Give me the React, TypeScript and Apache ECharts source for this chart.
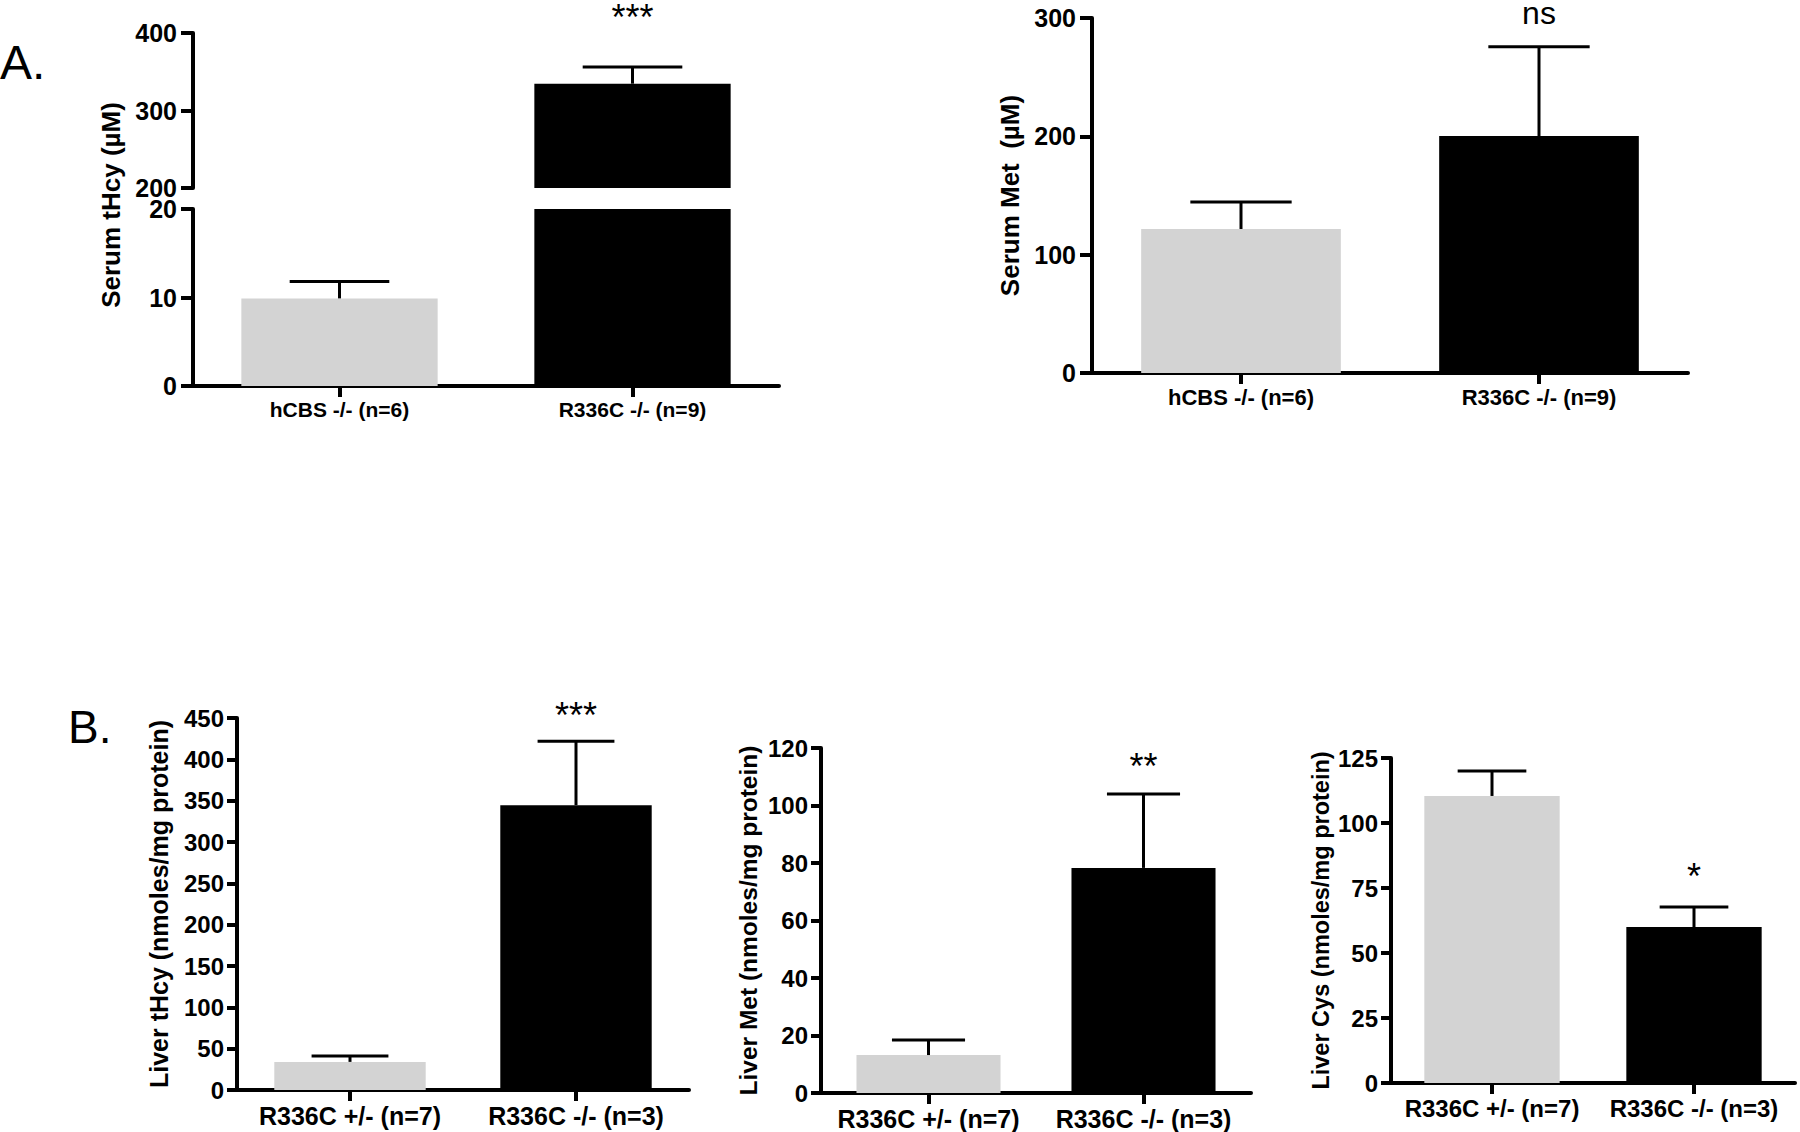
import React, { useEffect, useRef } from 'react';
import * as echarts from 'echarts';

// ---------- data ----------
const groupsA = ['hCBS -/- (n=6)', 'R336C -/- (n=9)'];
const groupsB = ['R336C +/- (n=7)', 'R336C -/- (n=3)'];
const barColors = ['#d3d3d3', '#000000'];

// Panel A, left: serum total homocysteine (broken axis)
const serumTHcyMean = [9.9, 334.6];
const serumTHcyErr = [1.9, 21.5];
const serumTHcySig = ['', '***'];
const serumTHcyLowerAxis = [0, 20, 10]; // min, max, interval
const serumTHcyUpperAxis = [200, 400, 100];

// Panel A, right: serum methionine
const serumMetMean = [121.7, 200.3];
const serumMetErr = [22.8, 75.3];
const serumMetSig = ['', 'ns'];
const serumMetAxis = [0, 300, 100];

// Panel B: liver metabolites
const liverTHcyMean = [34, 344.6];
const liverTHcyErr = [7.1, 77.4];
const liverTHcySig = ['', '***'];
const liverTHcyAxis = [0, 450, 50];

const liverMetMean = [13.2, 78.3];
const liverMetErr = [5.2, 25.7];
const liverMetSig = ['', '**'];
const liverMetAxis = [0, 120, 20];

const liverCysMean = [110.4, 60.0];
const liverCysErr = [9.6, 7.7];
const liverCysSig = ['', '*'];
const liverCysAxis = [0, 125, 25];

// ---------- helpers ----------
const FONT = "'Liberation Sans', Arial, Helvetica, sans-serif";

function valueAxis(grid: number, range: number[], fontSize: number, margin: number, tickLen: number, extra: any = {}) {
  return {
    type: 'value',
    gridIndex: grid,
    min: range[0],
    max: range[1],
    interval: range[2],
    axisLine: { show: true, lineStyle: { color: '#000', width: 4 } },
    axisTick: { show: true, length: tickLen, lineStyle: { color: '#000', width: 4 } },
    axisLabel: {
      margin,
      fontSize,
      fontWeight: 'bold',
      color: '#000',
      fontFamily: FONT,
      showMinLabel: true,
      showMaxLabel: true,
    },
    splitLine: { show: false },
    ...extra,
  };
}

function categoryAxis(grid: number, cats: string[], fontSize: number, show = true) {
  return {
    type: 'category',
    gridIndex: grid,
    data: cats,
    show,
    axisLine: { show: true, lineStyle: { color: '#000', width: 4 } },
    axisTick: { show: true, alignWithLabel: true, length: 11, lineStyle: { color: '#000', width: 4 } },
    axisLabel: {
      margin: 13,
      fontSize,
      fontWeight: 'bold',
      color: '#000',
      fontFamily: FONT,
      interval: 0,
    },
    splitLine: { show: false },
  };
}

function barSeries(grid: number, means: number[]) {
  return {
    type: 'bar',
    xAxisIndex: grid,
    yAxisIndex: grid,
    barWidth: '67%',
    clip: true,
    silent: true,
    data: means.map((v, i) => ({ value: v, itemStyle: { color: barColors[i] } })),
  };
}

function errSeries(
  grid: number,
  means: number[],
  errs: number[],
  sigs: string[],
  keep: (i: number) => boolean,
  sigGap: number,
  sigSize: number,
) {
  const data = means.map((m, i) => [i, m, errs[i]]).filter((_, i) => keep(i));
  return {
    type: 'custom',
    xAxisIndex: grid,
    yAxisIndex: grid,
    z: 5,
    silent: true,
    data,
    renderItem: (_params: any, api: any) => {
      const ci = api.value(0);
      const m = api.value(1);
      const e = api.value(2);
      const b = api.coord([ci, m]);
      const t = api.coord([ci, m + e]);
      const half = (api.size([1, 0])[0] * 0.34) / 2;
      const st = { stroke: '#000', lineWidth: 3 };
      const children: any[] = [
        { type: 'line', shape: { x1: b[0], y1: b[1], x2: t[0], y2: t[1] }, style: st },
        { type: 'line', shape: { x1: t[0] - half, y1: t[1], x2: t[0] + half, y2: t[1] }, style: st },
      ];
      const s = sigs[ci];
      if (s) {
        children.push({
          type: 'text',
          x: t[0],
          y: t[1] - sigGap,
          style: {
            text: s,
            fontSize: sigSize,
            fontFamily: FONT,
            fontWeight: 'normal',
            fill: '#000',
            align: 'center',
            verticalAlign: 'middle',
          },
        });
      }
      return { type: 'group', children };
    },
  };
}

function axisName(text: string, gap: number, size: number) {
  return {
    name: text,
    nameLocation: 'middle',
    nameGap: gap,
    nameTextStyle: { fontSize: size, fontWeight: 'bold', color: '#000', fontFamily: FONT },
  };
}

export default function App() {
  const ref = useRef<HTMLDivElement>(null);

  useEffect(() => {
    if (!ref.current) return;
    const chart = echarts.init(ref.current, null, { renderer: 'svg' });

    const grids = [
      { left: 193, top: 33, width: 586, height: 155 }, // 0: A tHcy upper
      { left: 193, top: 209, width: 586, height: 177 }, // 1: A tHcy lower
      { left: 1092, top: 18, width: 596, height: 355 }, // 2: A Met
      { left: 237, top: 718, width: 452, height: 372 }, // 3: B tHcy
      { left: 821, top: 748, width: 430, height: 345 }, // 4: B Met
      { left: 1391, top: 758, width: 404, height: 325 }, // 5: B Cys
    ];

    const option: any = {
      animation: false,
      backgroundColor: '#ffffff',
      grid: grids.map((g) => ({ ...g, containLabel: false })),
      xAxis: [
        categoryAxis(0, groupsA, 21, false),
        categoryAxis(1, groupsA, 21),
        categoryAxis(2, groupsA, 22),
        categoryAxis(3, groupsB, 25),
        categoryAxis(4, groupsB, 25),
        categoryAxis(5, groupsB, 24),
      ],
      yAxis: [
        valueAxis(0, serumTHcyUpperAxis, 25, 16, 12),
        valueAxis(1, serumTHcyLowerAxis, 25, 16, 12),
        valueAxis(2, serumMetAxis, 25, 16, 12, axisName('Serum Met  (µM)', 69, 26)),
        valueAxis(3, liverTHcyAxis, 24, 13, 10, axisName('Liver tHcy (nmoles/mg protein)', 66, 25)),
        valueAxis(4, liverMetAxis, 24, 13, 10, axisName('Liver Met (nmoles/mg protein)', 60, 24.5)),
        valueAxis(5, liverCysAxis, 24, 13, 10, axisName('Liver Cys (nmoles/mg protein)', 58, 23.5)),
      ],
      series: [
        barSeries(0, serumTHcyMean),
        barSeries(1, serumTHcyMean),
        errSeries(0, serumTHcyMean, serumTHcyErr, serumTHcySig, (i) => serumTHcyMean[i] > serumTHcyLowerAxis[1], 50, 36),
        errSeries(1, serumTHcyMean, serumTHcyErr, serumTHcySig, (i) => serumTHcyMean[i] <= serumTHcyLowerAxis[1], 50, 36),
        barSeries(2, serumMetMean),
        errSeries(2, serumMetMean, serumMetErr, serumMetSig, () => true, 34, 32),
        barSeries(3, liverTHcyMean),
        errSeries(3, liverTHcyMean, liverTHcyErr, liverTHcySig, () => true, 26, 36),
        barSeries(4, liverMetMean),
        errSeries(4, liverMetMean, liverMetErr, liverMetSig, () => true, 28, 36),
        barSeries(5, liverCysMean),
        errSeries(5, liverCysMean, liverCysErr, liverCysSig, () => true, 30, 36),
      ],
      graphic: [
        {
          type: 'text',
          x: 111,
          y: 205,
          rotation: Math.PI / 2,
          style: {
            text: 'Serum tHcy (µM)',
            fontSize: 26,
            fontWeight: 'bold',
            fontFamily: FONT,
            fill: '#000',
            align: 'center',
            verticalAlign: 'middle',
          },
        },
        {
          type: 'text',
          x: 0,
          y: 62,
          style: { text: 'A.', fontSize: 48, fontFamily: FONT, fill: '#000', align: 'left', verticalAlign: 'middle' },
        },
        {
          type: 'text',
          x: 68,
          y: 727,
          style: { text: 'B.', fontSize: 46, fontFamily: FONT, fill: '#000', align: 'left', verticalAlign: 'middle' },
        },
      ],
    };

    chart.setOption(option);
    return () => chart.dispose();
  }, []);

  return (
    <div
      ref={ref}
      style={{ position: 'absolute', left: 0, top: 0, width: 1800, height: 1132, background: '#fff' }}
    />
  );
}
